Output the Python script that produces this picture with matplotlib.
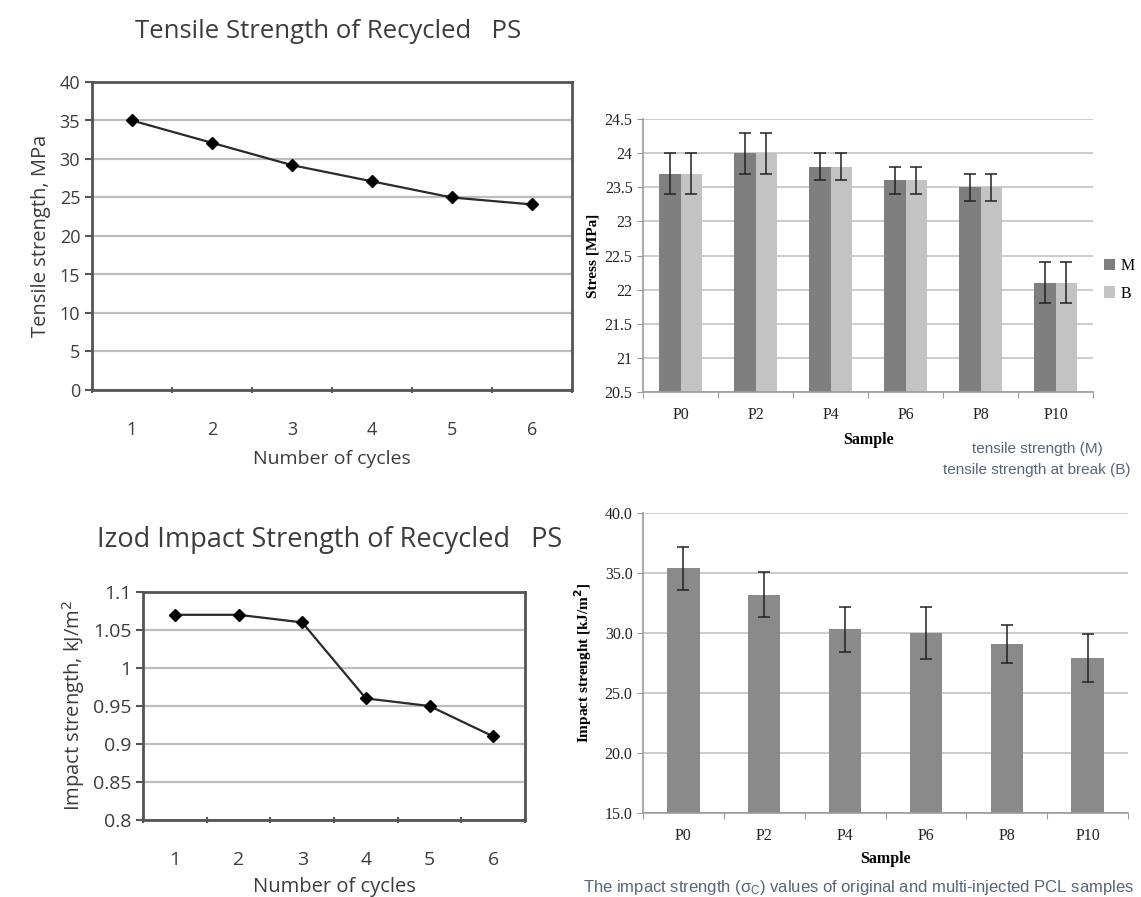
import matplotlib.pyplot as plt
import numpy as np
from matplotlib.ticker import FixedLocator, NullFormatter

# data
cycles = [1, 2, 3, 4, 5, 6]
tensile_ps = [35.0, 32.1, 29.2, 27.1, 25.0, 24.1]
impact_ps = [1.07, 1.07, 1.06, 0.96, 0.95, 0.91]

samples = ["P0", "P2", "P4", "P6", "P8", "P10"]
stress_m = [23.7, 24.0, 23.8, 23.6, 23.5, 22.1]
stress_b = [23.7, 24.0, 23.8, 23.6, 23.5, 22.1]
stress_err = [0.3, 0.3, 0.2, 0.2, 0.2, 0.3]

impact_pcl = [35.4, 33.2, 30.3, 30.0, 29.1, 27.9]
impact_err = [1.8, 1.9, 1.9, 2.2, 1.6, 2.0]

W, H = 1141, 897
fig = plt.figure(figsize=(W / 100, H / 100), dpi=100)
fig.patch.set_facecolor("white")


def box(left, top, right, bottom):
    # pixel box -> figure fraction
    return [left / W, 1 - bottom / H, (right - left) / W, (bottom - top) / H]


SANS = "Open Sans"
SERIF = "Liberation Serif"
TXT = "#3c3c3c"


def excel_line(ax, x, y, ylim, yticks, ylabels, fs_tick, pad_x):
    ax.plot(x, y, "-", color="#2a2a2a", linewidth=1.6, marker="D",
            markersize=6, markerfacecolor="black", markeredgecolor="black", zorder=3)
    ax.set_xlim(0.5, 6.5)
    ax.set_ylim(*ylim)
    ax.set_yticks(yticks)
    ax.set_yticklabels(ylabels, fontsize=fs_tick, color=TXT, family=SANS)
    ax.xaxis.set_major_locator(FixedLocator(np.arange(0.5, 7.0, 1.0)))
    ax.xaxis.set_major_formatter(NullFormatter())
    ax.xaxis.set_minor_locator(FixedLocator(x))
    ax.set_xticklabels([str(c) for c in x], minor=True, fontsize=fs_tick,
                       color=TXT, family=SANS)
    ax.tick_params(axis="x", which="minor", length=0, pad=pad_x)
    ax.tick_params(axis="x", which="major", length=5, width=1.5, color="#555555",
                   direction="inout")
    ax.tick_params(axis="y", length=5, width=1.5, color="#555555", direction="out")
    ax.grid(True, axis="y", color="#bdbdbd", linewidth=1.6)
    ax.set_axisbelow(True)
    for s in ax.spines.values():
        s.set_color("#555555")
        s.set_linewidth(2.0)


# ---- top left: tensile strength of recycled PS
ax1 = fig.add_axes(box(92, 82, 572, 390))
excel_line(ax1, cycles, tensile_ps, (0, 40), np.arange(0, 41, 5),
           [str(v) for v in range(0, 41, 5)], 13, 22)
ax1.set_xlabel("Number of cycles", fontsize=14, color=TXT, family=SANS, labelpad=8)
ax1.set_ylabel("Tensile strength, MPa", fontsize=14.5, color=TXT, family=SANS, labelpad=6)
fig.text(328 / W, 1 - 31 / H, "Tensile Strength of Recycled   PS", ha="center",
         va="center", fontsize=18.5, color=TXT, family=SANS)

# ---- bottom left: izod impact strength of recycled PS
ax2 = fig.add_axes(box(143, 592, 525, 820))
ylab2 = ["0.8", "0.85", "0.9", "0.95", "1", "1.05", "1.1"]
excel_line(ax2, cycles, impact_ps, (0.8, 1.1), np.arange(0.8, 1.101, 0.05), ylab2, 14, 22)
ax2.set_xlabel("Number of cycles", fontsize=14.5, color=TXT, family=SANS, labelpad=6)
ax2.set_ylabel("Impact strength, kJ/m$^2$", fontsize=14.5, color=TXT, family=SANS, labelpad=4)
fig.text(330 / W, 1 - 540 / H, "Izod Impact Strength of Recycled   PS", ha="center",
         va="center", fontsize=19.5, color=TXT, family=SANS)


def paper_bars(ax, ylim, yticks, ylabels):
    ax.set_xlim(-0.5, 5.5)
    ax.set_ylim(*ylim)
    ax.set_yticks(yticks)
    ax.set_yticklabels(ylabels, fontsize=11.5, family=SERIF, color="#222222")
    ax.xaxis.set_major_locator(FixedLocator(np.arange(-0.5, 6.0, 1.0)))
    ax.xaxis.set_major_formatter(NullFormatter())
    ax.xaxis.set_minor_locator(FixedLocator(range(6)))
    ax.set_xticklabels(samples, minor=True, fontsize=11.5, family=SERIF, color="#222222")
    ax.tick_params(axis="x", which="minor", length=0, pad=11)
    ax.tick_params(axis="x", which="major", length=4, color="#999999")
    ax.tick_params(axis="y", length=4, color="#999999")
    ax.grid(True, axis="y", color="#c4c4c4", linewidth=1.2)
    ax.set_axisbelow(True)
    for s in ["top", "right"]:
        ax.spines[s].set_visible(False)
    for s in ["left", "bottom"]:
        ax.spines[s].set_color("#9a9a9a")
        ax.spines[s].set_linewidth(1.2)


# ---- top right: stress of PCL samples
ax3 = fig.add_axes(box(643, 119, 1093, 392))
x = np.arange(len(samples))
bw = 0.29
err_kw = dict(ecolor="#222222", elinewidth=1.1, capsize=4, capthick=1.1)
ax3.bar(x - bw / 2, stress_m, bw, color="#7f7f7f", label="M",
        yerr=stress_err, error_kw=err_kw)
ax3.bar(x + bw / 2, stress_b, bw, color="#c3c3c3", label="B",
        yerr=stress_err, error_kw=err_kw)
paper_bars(ax3, (20.5, 24.5), np.arange(20.5, 24.51, 0.5),
           ["20.5", "21", "21.5", "22", "22.5", "23", "23.5", "24", "24.5"])
ax3.set_xlabel("Sample", fontsize=11.5, family=SERIF, fontweight="bold", labelpad=6)
ax3.set_ylabel("Stress [MPa]", fontsize=11, family=SERIF, fontweight="bold", labelpad=4)
ax3.legend(loc="center left", bbox_to_anchor=(1.0, 0.41), frameon=False,
           prop={"family": SERIF, "size": 11.5}, handlelength=0.7, handleheight=0.7,
           handletextpad=0.3, labelspacing=0.7, borderaxespad=0.3)
cap_col = "#56657a"
fig.text(1037 / W, 1 - 449 / H, "tensile strength (M)", ha="center", va="center",
         fontsize=11, color=cap_col, family="Liberation Sans")
fig.text(1037 / W, 1 - 470 / H, "tensile strength at break (B)", ha="center",
         va="center", fontsize=11, color=cap_col, family="Liberation Sans")

# ---- bottom right: impact strength of PCL samples
ax4 = fig.add_axes(box(643, 513, 1128, 813))
ax4.bar(x, impact_pcl, 0.4, color="#8a8a8a", yerr=impact_err, error_kw=err_kw)
paper_bars(ax4, (15, 40), np.arange(15, 40.1, 5),
           ["15.0", "20.0", "25.0", "30.0", "35.0", "40.0"])
ax4.set_xlabel("Sample", fontsize=11.5, family=SERIF, fontweight="bold", labelpad=5)
ax4.set_ylabel("Impact strenght [kJ/m$^\\mathbf{2}$]", fontsize=11, family=SERIF,
               fontweight="bold", labelpad=8)
fig.text(583 / W, 1 - 887 / H,
         "The impact strength ($\\mathregular{\\sigma_C}$) values of original and multi-injected PCL samples",
         ha="left", va="center", fontsize=12, color=cap_col, family="Liberation Sans")

fig.savefig("out.png", dpi=100, facecolor="white")
